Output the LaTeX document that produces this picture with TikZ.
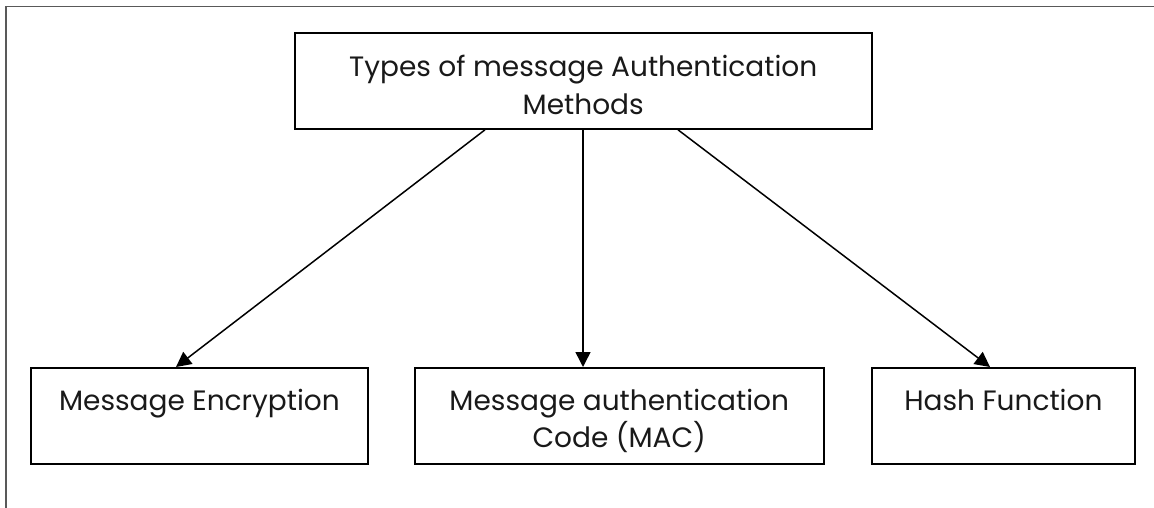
\documentclass[tikz,border=0pt]{standalone}
\usepackage{fontspec}
\setmainfont{Poppins}
\usetikzlibrary{arrows.meta,calc}
% Fixed-size text block: width, height, first baseline below the top edge, text
\newcommand\boxlabel[4]{\parbox[t][#2][t]{#1}{\centering\rule{0pt}{#3}#4}}
\begin{document}
\begin{tikzpicture}[x=1pt,y=-1pt,
  frameline/.style={draw=black!65, line width=1.6pt},
  boxnode/.style={draw=black, line width=1.8pt, inner sep=0pt, anchor=north west,
                  text=black!90, font=\fontsize{28}{37.5}\selectfont},
  link/.style={draw=black, line width=1.5pt, -{Triangle[length=15pt,width=15pt]}}]
\useasboundingbox (0,0) rectangle (1154,508);

% page frame (left and top edges only)
\draw[frameline] (6,508) -- (6,6.5) -- (1154,6.5);

% boxes
\node[boxnode] (top) at (294,32)
  {\boxlabel{576.7pt}{96pt}{44pt}{Types of message Authentication\\Methods}};
\node[boxnode] (enc) at (30,367)
  {\boxlabel{337pt}{96.3pt}{42.5pt}{Message Encryption}};
\node[boxnode] (mac) at (414,367)
  {\boxlabel{408.7pt}{96.3pt}{42.5pt}{Message authentication\\Code (MAC)}};
\node[boxnode] (hash) at (870.7,367)
  {\boxlabel{263.6pt}{96.3pt}{42.5pt}{Hash Function}};

% connectors
\draw[link] ($(top.south west)+(191,0)$) -- ($(enc.north west)+(146,0)$);
\draw[link] ($(top.south west)+(289,0)$) -- ($(mac.north west)+(169,0)$);
\draw[link] ($(top.south west)+(384,0)$) -- ($(hash.north west)+(119.3,0)$);
\end{tikzpicture}
\end{document}
